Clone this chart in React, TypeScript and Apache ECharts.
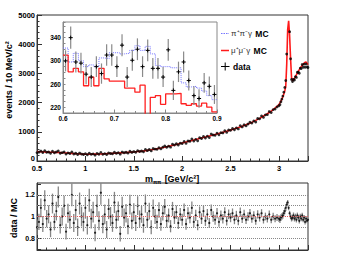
import React, { useEffect, useRef } from "react";
import * as echarts from "echarts";

// ---- main spectrum: m_pipi bins ----
const lowStart = 0.5;
const lowStep = 0.02;
const highStart = 3.0;
const highStep = 0.01;

// mu+mu-gamma MC (events / 10 MeV), 0.50 .. 2.98 step 0.02
const mcLow = [
  320, 318, 315, 312, 308,
  305, 303, 301, 299, 297,
  295, 292, 288, 284, 280,
  275, 270, 265, 260, 255,
  250, 246, 242, 238, 235,
  233, 232, 232, 233, 234,
  235, 237, 240, 242, 245,
  248, 251, 255, 258, 262,
  265, 269, 273, 277, 281,
  285, 290, 295, 300, 305,
  310, 316, 323, 330, 337,
  345, 354, 364, 374, 384,
  395, 407, 420, 433, 446,
  460, 474, 489, 504, 519,
  535, 551, 567, 583, 599,
  615, 632, 649, 666, 683,
  700, 717, 734, 751, 768,
  785, 802, 819, 836, 853,
  870, 888, 906, 924, 942,
  960, 980, 1000, 1020, 1040,
  1060, 1081, 1102, 1123, 1144,
  1165, 1190, 1215, 1240, 1265,
  1290, 1324, 1358, 1392, 1426,
  1460, 1500, 1540, 1580, 1620,
  1660, 1710, 1760, 1815, 1870,
];
// 3.00 .. 3.30 step 0.01 (J/psi region)
const mcHigh = [
  1930, 1990, 2050, 2120, 2200, 2290, 2400, 2550, 3300, 4500,
  4800, 4300, 3500, 2850, 2750, 2770, 2830, 2890, 2950, 3010,
  3070, 3130, 3180, 3230, 3270, 3310, 3350, 3380, 3390, 3350,
  3300,
];

// data / MC ratio
const ratioLow = [
  0.90, 0.95, 1.08, 0.93, 1.15, 0.98, 1.02, 0.88, 1.12, 0.95, 1.05, 1.18, 0.92, 1.00, 1.10, 0.86, 1.03, 0.97, 1.20, 0.94, 1.06, 0.90, 1.12, 1.00, 0.95,
  1.08, 0.92, 1.15, 0.98, 1.04, 0.85, 1.10, 0.96, 1.22, 0.93, 1.02, 0.88, 1.07, 1.00, 0.94, 1.13, 0.97, 1.05, 0.84, 1.09, 0.99, 1.03, 0.91, 1.11, 0.96,
  1.04, 0.94, 1.10, 0.98, 1.02, 0.92, 1.12, 0.97, 1.05, 0.90, 1.08, 1.00, 0.95, 1.06, 0.93, 1.03, 1.09, 0.96, 1.01, 0.91, 1.07, 0.99, 1.04, 0.94, 1.02,
  0.97, 1.06, 0.93, 1.03, 0.99, 1.08, 0.95, 1.01, 0.92, 1.04, 0.98, 1.05, 0.96, 1.02, 0.94, 1.06, 1.00, 0.97, 1.03, 0.95, 1.01, 0.98, 1.04, 0.96, 1.02,
  0.99, 1.03, 0.97, 1.01, 0.96, 1.04, 0.98, 1.02, 0.97, 1.00, 1.03, 0.98, 1.01, 0.96, 1.02, 0.99, 1.03, 0.97, 1.00, 0.98, 1.02, 0.97, 1.00, 0.98, 0.99,
];
const ratioHigh = [
  0.98, 0.97, 0.99, 1.00, 1.01, 1.03, 1.05, 1.08, 1.11, 1.13,
  1.08, 1.03, 1.00, 0.98, 0.99, 1.01, 0.98, 1.00, 0.97, 1.01,
  0.99, 0.96, 1.00, 0.98, 1.01, 0.97, 0.99, 0.95, 0.98, 0.96,
  0.97,
];

// ---- inset: 0.6 .. 0.9, 10 MeV bins ----
const insetStart = 0.6;
const insetStep = 0.01;
const insetMuMu = [
  310, 281, 287, 281, 257, 272, 257, 287, 269, 265,
  265, 265, 253, 253, 246, 258, 195, 237, 240, 225,
  243, 243, 244, 226, 223, 226, 222, 227, 220, 212,
];
const insetPiPi = [
  322, 298, 313, 300, 290, 293, 290, 305, 304, 314,
  314, 312, 313, 318, 326, 318, 325, 312, 292, 290,
  290, 288, 288, 262, 255, 256, 253, 248, 240, 233,
];
const insetData = [
  300, 340, 298, 296, 277, 272, 290, 278, 310, 310,
  290, 327, 272, 301, 320, 290, 318, 287, 287, 272,
  319, 249, 281, 298, 266, 240, 235, 262, 256, 242,
];

const ratioLabelValues = [0.8, 1, 1.2];
const ratioTickValues = [0.7, 0.8, 0.9, 1.0, 1.1, 1.2, 1.3];
const ratioGridValues = [0.8, 0.9, 1.1, 1.2];
const insetYLabelValues = [220, 260, 300, 340];

const FONT = '"Liberation Sans", Arial, Helvetica, sans-serif';
const AX = "#333";

function buildMain() {
  const mc: number[][] = [];
  const data: number[][] = [];
  const ratio: number[][] = [];
  const ratioErr: number[][] = [];
  const add = (m: number, mcv: number, r: number) => {
    mc.push([m, mcv]);
    data.push([m, mcv * r]);
    ratio.push([m, r]);
    const e = r * Math.sqrt(2 / mcv);
    ratioErr.push([m, r - e, r + e]);
  };
  mcLow.forEach((v, i) => add(+(lowStart + i * lowStep).toFixed(2), v, ratioLow[i]));
  mcHigh.forEach((v, i) => add(+(highStart + i * highStep).toFixed(2), v, ratioHigh[i]));
  return { mc, data, ratio, ratioErr };
}

function buildInset() {
  const edge = (i: number) => +(insetStart + i * insetStep).toFixed(3);
  const mumu = insetMuMu.map((v, i) => [edge(i), v]);
  mumu.push([edge(insetMuMu.length), insetMuMu[insetMuMu.length - 1]]);
  const pipi = insetPiPi.map((v, i) => [edge(i), v]);
  pipi.push([edge(insetPiPi.length), insetPiPi[insetPiPi.length - 1]]);
  const pts = insetData.map((v, i) => [+(edge(i) + insetStep / 2).toFixed(3), v, Math.sqrt(v) * 1.05]);
  return { mumu, pipi, pts };
}

const tickLabel = (size: number, extra: any = {}) => ({
  fontSize: size,
  fontWeight: "bold",
  fontFamily: FONT,
  color: "#000",
  margin: 2,
  ...extra,
});

export default function App() {
  const ref = useRef<HTMLDivElement>(null);
  useEffect(() => {
    if (!ref.current) return;
    const chart = echarts.init(ref.current, null, { renderer: "svg" });
    const main = buildMain();
    const inset = buildInset();

    const baseAxis = {
      type: "value",
      axisLine: { show: true, onZero: false, lineStyle: { color: AX, width: 1 } },
      axisTick: { show: true, inside: true, length: 5, lineStyle: { color: AX, width: 1 } },
      minorTick: { show: true, splitNumber: 5, length: 2.5, lineStyle: { color: AX, width: 1 } },
      splitLine: { show: false },
      minorSplitLine: { show: false },
    };
    const plain = (v: number) => String(+v.toFixed(2));

    const option: any = {
      animation: false,
      backgroundColor: "#fff",
      grid: [
        { left: 37, top: 15, width: 271, height: 146, show: true, borderColor: AX, borderWidth: 1, backgroundColor: "transparent" },
        { left: 37, top: 183, width: 271, height: 67, show: true, borderColor: AX, borderWidth: 1, backgroundColor: "transparent" },
        { left: 63, top: 22, width: 154, height: 91, show: true, borderColor: "#888", borderWidth: 1, backgroundColor: "#fff" },
      ],
      xAxis: [
        { ...baseAxis, gridIndex: 0, min: 0.5, max: 3.3, interval: 0.5, axisLabel: tickLabel(7.5, { showMaxLabel: false, formatter: plain, margin: 3 }) },
        { ...baseAxis, gridIndex: 1, min: 0.5, max: 3.3, interval: 0.5, axisLabel: { show: false } },
        {
          ...baseAxis, gridIndex: 2, min: 0.6, max: 0.9, interval: 0.1,
          axisLine: { show: true, onZero: false, lineStyle: { color: "#888", width: 1 } },
          axisTick: { show: true, inside: true, length: 3.5, lineStyle: { color: "#888" } },
          minorTick: { show: true, splitNumber: 5, length: 2, lineStyle: { color: "#888" } },
          axisLabel: tickLabel(6.5, { formatter: plain }),
        },
      ],
      yAxis: [
        {
          ...baseAxis, gridIndex: 0, min: 0, max: 5000, interval: 1000,
          axisLabel: tickLabel(7.5, {
            formatter: (v: number) => (v === 0 ? "{z|0}" : plain(v)),
            rich: { z: { fontSize: 7.5, fontWeight: "bold", fontFamily: FONT, color: "#000", padding: [0, 0, 6, 0] } },
          }),
        },
        {
          ...baseAxis, gridIndex: 1, min: 0.69, max: 1.31,
          axisTick: { show: true, inside: true, length: 4, customValues: ratioTickValues, lineStyle: { color: AX } },
          minorTick: { show: false },
          axisLabel: tickLabel(7, { customValues: ratioLabelValues, formatter: plain }),
        },
        {
          ...baseAxis, gridIndex: 2, min: 210, max: 367, interval: 10,
          axisLine: { show: true, onZero: false, lineStyle: { color: "#888", width: 1 } },
          axisTick: { show: true, inside: true, length: 2.5, lineStyle: { color: "#888" } },
          minorTick: { show: false },
          axisLabel: tickLabel(6.5, {
            formatter: (v: number) => (insetYLabelValues.indexOf(Math.round(v)) >= 0 ? String(Math.round(v)) : ""),
          }),
        },
      ],
      series: [
        {
          type: "line", xAxisIndex: 0, yAxisIndex: 0, data: main.mc, showSymbol: false,
          lineStyle: { color: "#ff1a1a", width: 1.6 }, z: 2,
        },
        {
          type: "scatter", xAxisIndex: 0, yAxisIndex: 0, data: main.data, symbol: "circle", symbolSize: 2.8,
          itemStyle: { color: "#000" }, z: 3,
        },
        {
          type: "custom", xAxisIndex: 1, yAxisIndex: 1, data: main.ratioErr, encode: { x: 0, y: [1, 2] }, clip: true,
          renderItem: (_p: any, api: any) => {
            const x = api.value(0);
            const a = api.coord([x, api.value(1)]);
            const b = api.coord([x, api.value(2)]);
            return { type: "line", shape: { x1: a[0], y1: a[1], x2: b[0], y2: b[1] }, style: { stroke: "#858585", lineWidth: 1.3 } };
          },
          z: 2,
        },
        {
          type: "scatter", xAxisIndex: 1, yAxisIndex: 1, data: main.ratio, symbol: "circle", symbolSize: 2.2,
          itemStyle: { color: "#000" }, z: 3,
          markLine: {
            silent: true, symbol: "none", label: { show: false },
            lineStyle: { color: "#888", type: "dotted", width: 1 },
            data: [
              ...ratioGridValues.map((v) => ({ yAxis: v })),
              { yAxis: 1, lineStyle: { color: "#e06060", type: "dotted", width: 1 } },
            ],
          },
        },
        {
          type: "line", xAxisIndex: 2, yAxisIndex: 2, data: inset.pipi, step: "end", showSymbol: false, clip: true,
          lineStyle: { color: "#7474ff", type: "dotted", width: 1 }, z: 4,
        },
        {
          type: "line", xAxisIndex: 2, yAxisIndex: 2, data: inset.mumu, step: "end", showSymbol: false, clip: true,
          lineStyle: { color: "#ff2020", width: 1.3 }, z: 4,
        },
        {
          type: "custom", xAxisIndex: 2, yAxisIndex: 2, data: inset.pts, encode: { x: 0, y: 1 }, clip: true, z: 5,
          renderItem: (_p: any, api: any) => {
            const x = api.value(0), y = api.value(1), e = api.value(2);
            const c = api.coord([x, y]);
            const t = api.coord([x, y + e]);
            const b = api.coord([x, y - e]);
            const l = api.coord([x - 0.004, y]);
            const r = api.coord([x + 0.004, y]);
            return {
              type: "group",
              children: [
                { type: "line", shape: { x1: c[0], y1: t[1], x2: c[0], y2: b[1] }, style: { stroke: "#8a8a8a", lineWidth: 1.2 } },
                { type: "line", shape: { x1: l[0], y1: c[1], x2: r[0], y2: c[1] }, style: { stroke: "#000", lineWidth: 1 } },
                { type: "line", shape: { x1: c[0], y1: c[1] - 2, x2: c[0], y2: c[1] + 2 }, style: { stroke: "#000", lineWidth: 1 } },
              ],
            };
          },
        },
      ],
      graphic: [
        {
          type: "text", x: 8.5, y: 80, rotation: Math.PI / 2,
          style: { text: "events / 10 MeV/c²", fontSize: 9, fontWeight: "bold", fontFamily: FONT, fill: "#000", align: "center", verticalAlign: "middle", textAlign: "center", textVerticalAlign: "middle" },
        },
        {
          type: "text", x: 13.5, y: 218, rotation: Math.PI / 2,
          style: { text: "data / MC", fontSize: 9, fontWeight: "bold", fontFamily: FONT, fill: "#000", align: "center", verticalAlign: "middle", textAlign: "center", textVerticalAlign: "middle" },
        },
        {
          type: "text", x: 172, y: 178.5,
          style: {
            text: "{m|m}{s|ππ} {t|[GeV/c²]}",
            rich: {
              m: { fontSize: 9, fontWeight: "bold", fontFamily: FONT, fill: "#000" },
              s: { fontSize: 5.5, fontWeight: "bold", fontFamily: FONT, fill: "#000", verticalAlign: "bottom", padding: [4, 0, 0, 0] },
              t: { fontSize: 9, fontWeight: "bold", fontFamily: FONT, fill: "#000" },
            },
            align: "center", verticalAlign: "middle", textAlign: "center", textVerticalAlign: "middle",
          },
        },
        // legend
        { type: "line", shape: { x1: 221, y1: 33.5, x2: 229, y2: 33.5 }, style: { stroke: "#7474ff", lineWidth: 1, lineDash: [1.5, 1] } },
        {
          type: "text", x: 231, y: 33.5,
          style: {
            text: "{a|π⁺π⁻γ} {b|MC}",
            rich: {
              a: { fontSize: 8, fontFamily: FONT, fill: "#333" },
              b: { fontSize: 8.5, fontWeight: "bold", fontFamily: FONT, fill: "#000" },
            },
            verticalAlign: "middle", textVerticalAlign: "middle",
          },
        },
        { type: "line", shape: { x1: 221, y1: 50.5, x2: 229, y2: 50.5 }, style: { stroke: "#ff1a1a", lineWidth: 1.5 } },
        {
          type: "text", x: 231, y: 50.5,
          style: {
            text: "{a|μ⁺μ⁻γ} {b|MC}",
            rich: {
              a: { fontSize: 8, fontFamily: FONT, fill: "#333" },
              b: { fontSize: 8.5, fontWeight: "bold", fontFamily: FONT, fill: "#000" },
            },
            verticalAlign: "middle", textVerticalAlign: "middle",
          },
        },
        { type: "line", shape: { x1: 221, y1: 66.5, x2: 229.5, y2: 66.5 }, style: { stroke: "#000", lineWidth: 1 } },
        { type: "line", shape: { x1: 225.2, y1: 62.5, x2: 225.2, y2: 70.5 }, style: { stroke: "#000", lineWidth: 1 } },
        {
          type: "text", x: 233, y: 66.5,
          style: { text: "data", fontSize: 8.5, fontWeight: "bold", fontFamily: FONT, fill: "#000", verticalAlign: "middle", textVerticalAlign: "middle" },
        },
      ],
    };
    chart.setOption(option);
    return () => chart.dispose();
  }, []);
  return (
    <div
      ref={ref}
      style={{ position: "fixed", left: 0, top: 0, width: 350, height: 261, background: "#fff" }}
    />
  );
}
